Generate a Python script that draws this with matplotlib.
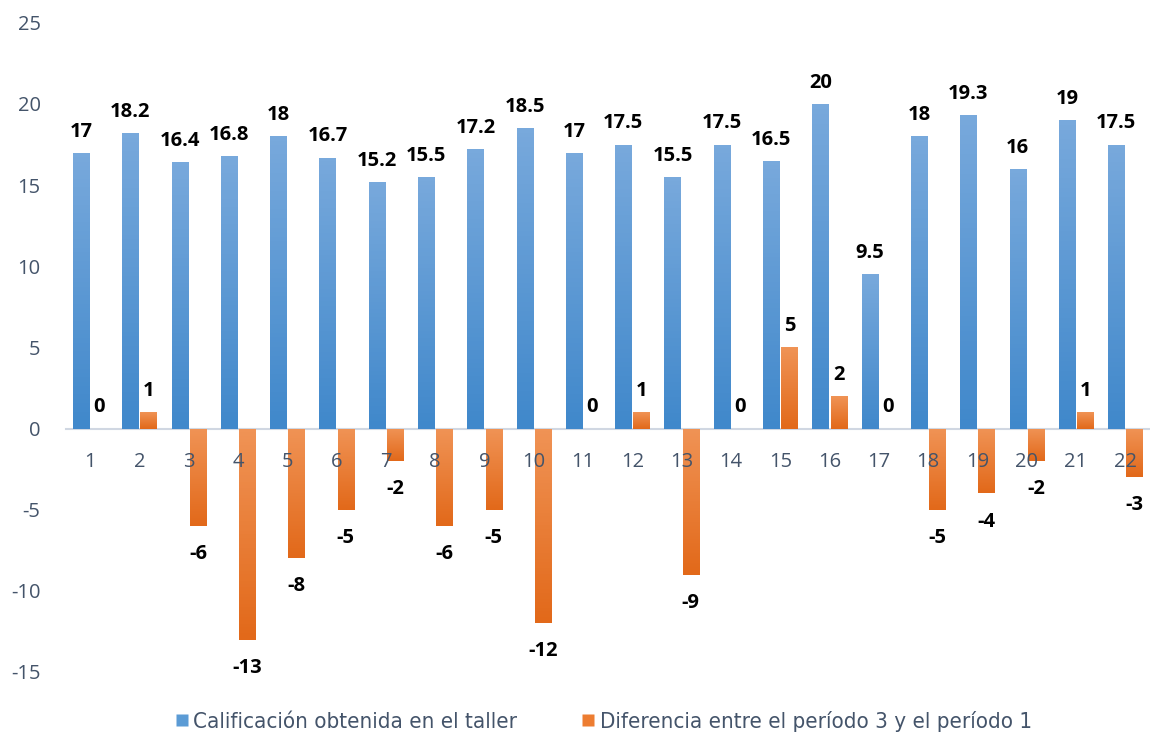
import matplotlib.pyplot as plt
import matplotlib.colors as mcolors
from matplotlib.lines import Line2D
import numpy as np

plt.rcParams["axes.unicode_minus"] = False

# Datos por estudiante
estudiantes = [str(i) for i in range(1, 23)]
calificacion = [17, 18.2, 16.4, 16.8, 18, 16.7, 15.2, 15.5, 17.2, 18.5, 17,
                17.5, 15.5, 17.5, 16.5, 20, 9.5, 18, 19.3, 16, 19, 17.5]
diferencia = [0, 1, -6, -13, -8, -5, -2, -6, -5, -12, 0,
              1, -9, 0, 5, 2, 0, -5, -4, -2, 1, -3]

serie_1 = "Calificación obtenida en el taller"
serie_2 = "Diferencia entre el período 3 y el período 1"

azul = ("#78a9dc", "#4088cb")
naranja = ("#f09355", "#e2691a")
texto_ejes = "#44546a"

fig = plt.figure(figsize=(11.5, 7.36), dpi=100)
ax = fig.add_axes([0.057, 0.087, 0.943, 0.882])

x = np.arange(1, len(estudiantes) + 1)
ancho = 0.33
b1 = ax.bar(x - 0.185, calificacion, ancho, color=azul[1], zorder=2)
b2 = ax.bar(x + 0.185, diferencia, ancho, color=naranja[1], zorder=2)


def degradado(barras, colores):
    cmap = mcolors.LinearSegmentedColormap.from_list("g", colores)
    grad = np.linspace(0, 1, 64).reshape(-1, 1)
    for p in barras:
        if p.get_height() == 0:
            continue
        x0, y0 = p.get_x(), min(p.get_y(), p.get_y() + p.get_height())
        x1, y1 = x0 + p.get_width(), max(p.get_y(), p.get_y() + p.get_height())
        im = ax.imshow(grad, cmap=cmap, aspect="auto", origin="upper",
                       extent=(x0, x1, y0, y1), zorder=2.1)
        im.set_clip_path(p)


degradado(b1, azul)
degradado(b2, naranja)
ax.set_xlim(0.5, 22.5)
ax.set_ylim(-15, 25)

# Etiquetas de valor
estilo = dict(textcoords="offset points", ha="center", fontsize=14.5,
              fontweight="bold", family="Open Sans", color="black")
for xi, v in zip(x - 0.185, calificacion):
    ax.annotate(f"{v:g}", (xi, v), xytext=(0, 8), va="bottom", **estilo)
for xi, v in zip(x + 0.185, diferencia):
    if v >= 0:
        ax.annotate(f"{v:g}", (xi, v), xytext=(0, 8), va="bottom", **estilo)
    else:
        ax.annotate(f"{v:g}", (xi, v), xytext=(0, -13), va="top", **estilo)

# Ejes
for s in ["top", "right", "left"]:
    ax.spines[s].set_visible(False)
ax.spines["bottom"].set_position(("data", 0))
ax.spines["bottom"].set_color("#d0d7e2")
ax.spines["bottom"].set_linewidth(1.5)
ax.spines["bottom"].set_zorder(1)
ax.xaxis.set_zorder(5)

ax.set_xticks(x)
ax.set_xticklabels(estudiantes)
ax.set_yticks(range(-15, 26, 5))
ax.tick_params(axis="x", length=0, pad=17, labelsize=14.5, labelcolor=texto_ejes)
ax.tick_params(axis="y", length=0, pad=18, labelsize=14.5, labelcolor=texto_ejes)
for t in ax.get_xticklabels() + ax.get_yticklabels():
    t.set_family("Open Sans")

handles = [
    Line2D([], [], marker="s", linestyle="none", markersize=8,
           markerfacecolor="#5b9bd5", markeredgecolor="none"),
    Line2D([], [], marker="s", linestyle="none", markersize=8,
           markerfacecolor="#ed7d31", markeredgecolor="none"),
]
fig.legend(handles, [serie_1, serie_2], loc="lower center",
           bbox_to_anchor=(0.525, -0.022), ncol=2, frameon=False,
           prop={"family": "DejaVu Sans", "stretch": "condensed", "size": 16},
           labelcolor="#44546a", handlelength=0.55, handletextpad=0.25,
           columnspacing=2.9)

fig.savefig("out.png", dpi=100)
